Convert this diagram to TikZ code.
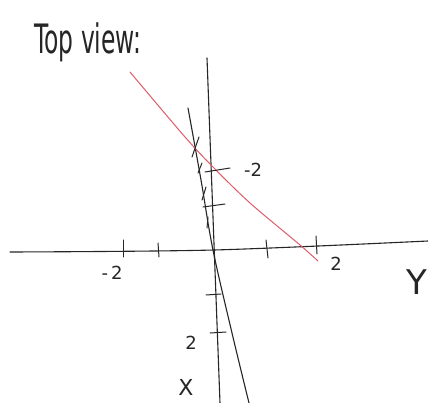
\documentclass[tikz,border=0pt]{standalone}
\usepackage{fontspec}
\setsansfont{DejaVu Sans}
\begin{document}
\begin{tikzpicture}[x=1pt,y=-1pt,
  axisline/.style={draw=black!85, line width=1.1pt, line cap=round},
  tickmark/.style={draw=black!85, line width=1pt, line cap=round},
  redline/.style={draw={rgb,255:red,222;green,92;blue,104}, line width=1pt, line cap=round},
  lbl/.style={font=\sffamily\fontsize{18}{18}\selectfont, text=black!85, inner sep=0pt},
  biglbl/.style={font=\sffamily\fontsize{30}{30}\selectfont, text=black!85, inner sep=0pt}]
\useasboundingbox (0,0) rectangle (428,403);
\fill[white] (0,0) rectangle (428,403);

% title
\node[biglbl, anchor=base west, xscale=0.78, yscale=1.35] (title) at (34,54) {Top view:};

% horizontal axis (Y)
\coordinate (hL) at (10,252);
\coordinate (hM) at (214,250);
\coordinate (hR) at (428,241);
\draw[axisline] plot[smooth] coordinates {(hL) (hM) (hR)};

% near-vertical axis (X)
\coordinate (vT) at (207,58);
\coordinate (vB) at (220,403);
\draw[axisline] (vT) -- (vB);

% slanted curve
\coordinate (sT) at (188,108);
\coordinate (sB) at (249,403);
\draw[axisline] plot[smooth, tension=0.6] coordinates {(sT) (201,180) (213,250) (232,333) (sB)};

% red line
\coordinate (rT) at (130,72);
\coordinate (rB) at (318,261);
\draw[redline] plot[smooth, tension=0.5] coordinates {(rT) (185,137) (213,167) (250,203) (300,245) (rB)};

% ticks on horizontal axis
\draw[tickmark] (123,240) -- (123,257);
\draw[tickmark] (158,243) -- (159,257);
\draw[tickmark] (266,240) -- (268,258);
\draw[tickmark] (316,236) -- (317,254);

% ticks on vertical axis
\draw[tickmark] (205,172) -- (230,168);
\draw[tickmark] (203,207) -- (225,204);
\draw[tickmark] (206,295) -- (221,294);
\draw[tickmark] (210,333) -- (226,332);

% marks on slanted curve
\draw[tickmark] (192,157) -- (199,137);
\draw[tickmark] (198,173) -- (202,163);
\draw[tickmark] (202,200) -- (206,187);
\draw[tickmark] (207,228) -- (208,217);

% labels
\node[lbl] (lm2v) at (253,170) {-2};
\node[lbl] (lm2h) at (112,273) {-\,2};
\node[lbl] (l2h) at (336,264) {2};
\node[lbl] (l2v) at (191,343) {2};
\node[lbl, font=\sffamily\fontsize{22}{22}\selectfont] (lX) at (186,387) {X};
\node[biglbl, anchor=east, font=\sffamily\fontsize{34}{34}\selectfont] (lY) at (427,282) {Y};
\end{tikzpicture}
\end{document}
